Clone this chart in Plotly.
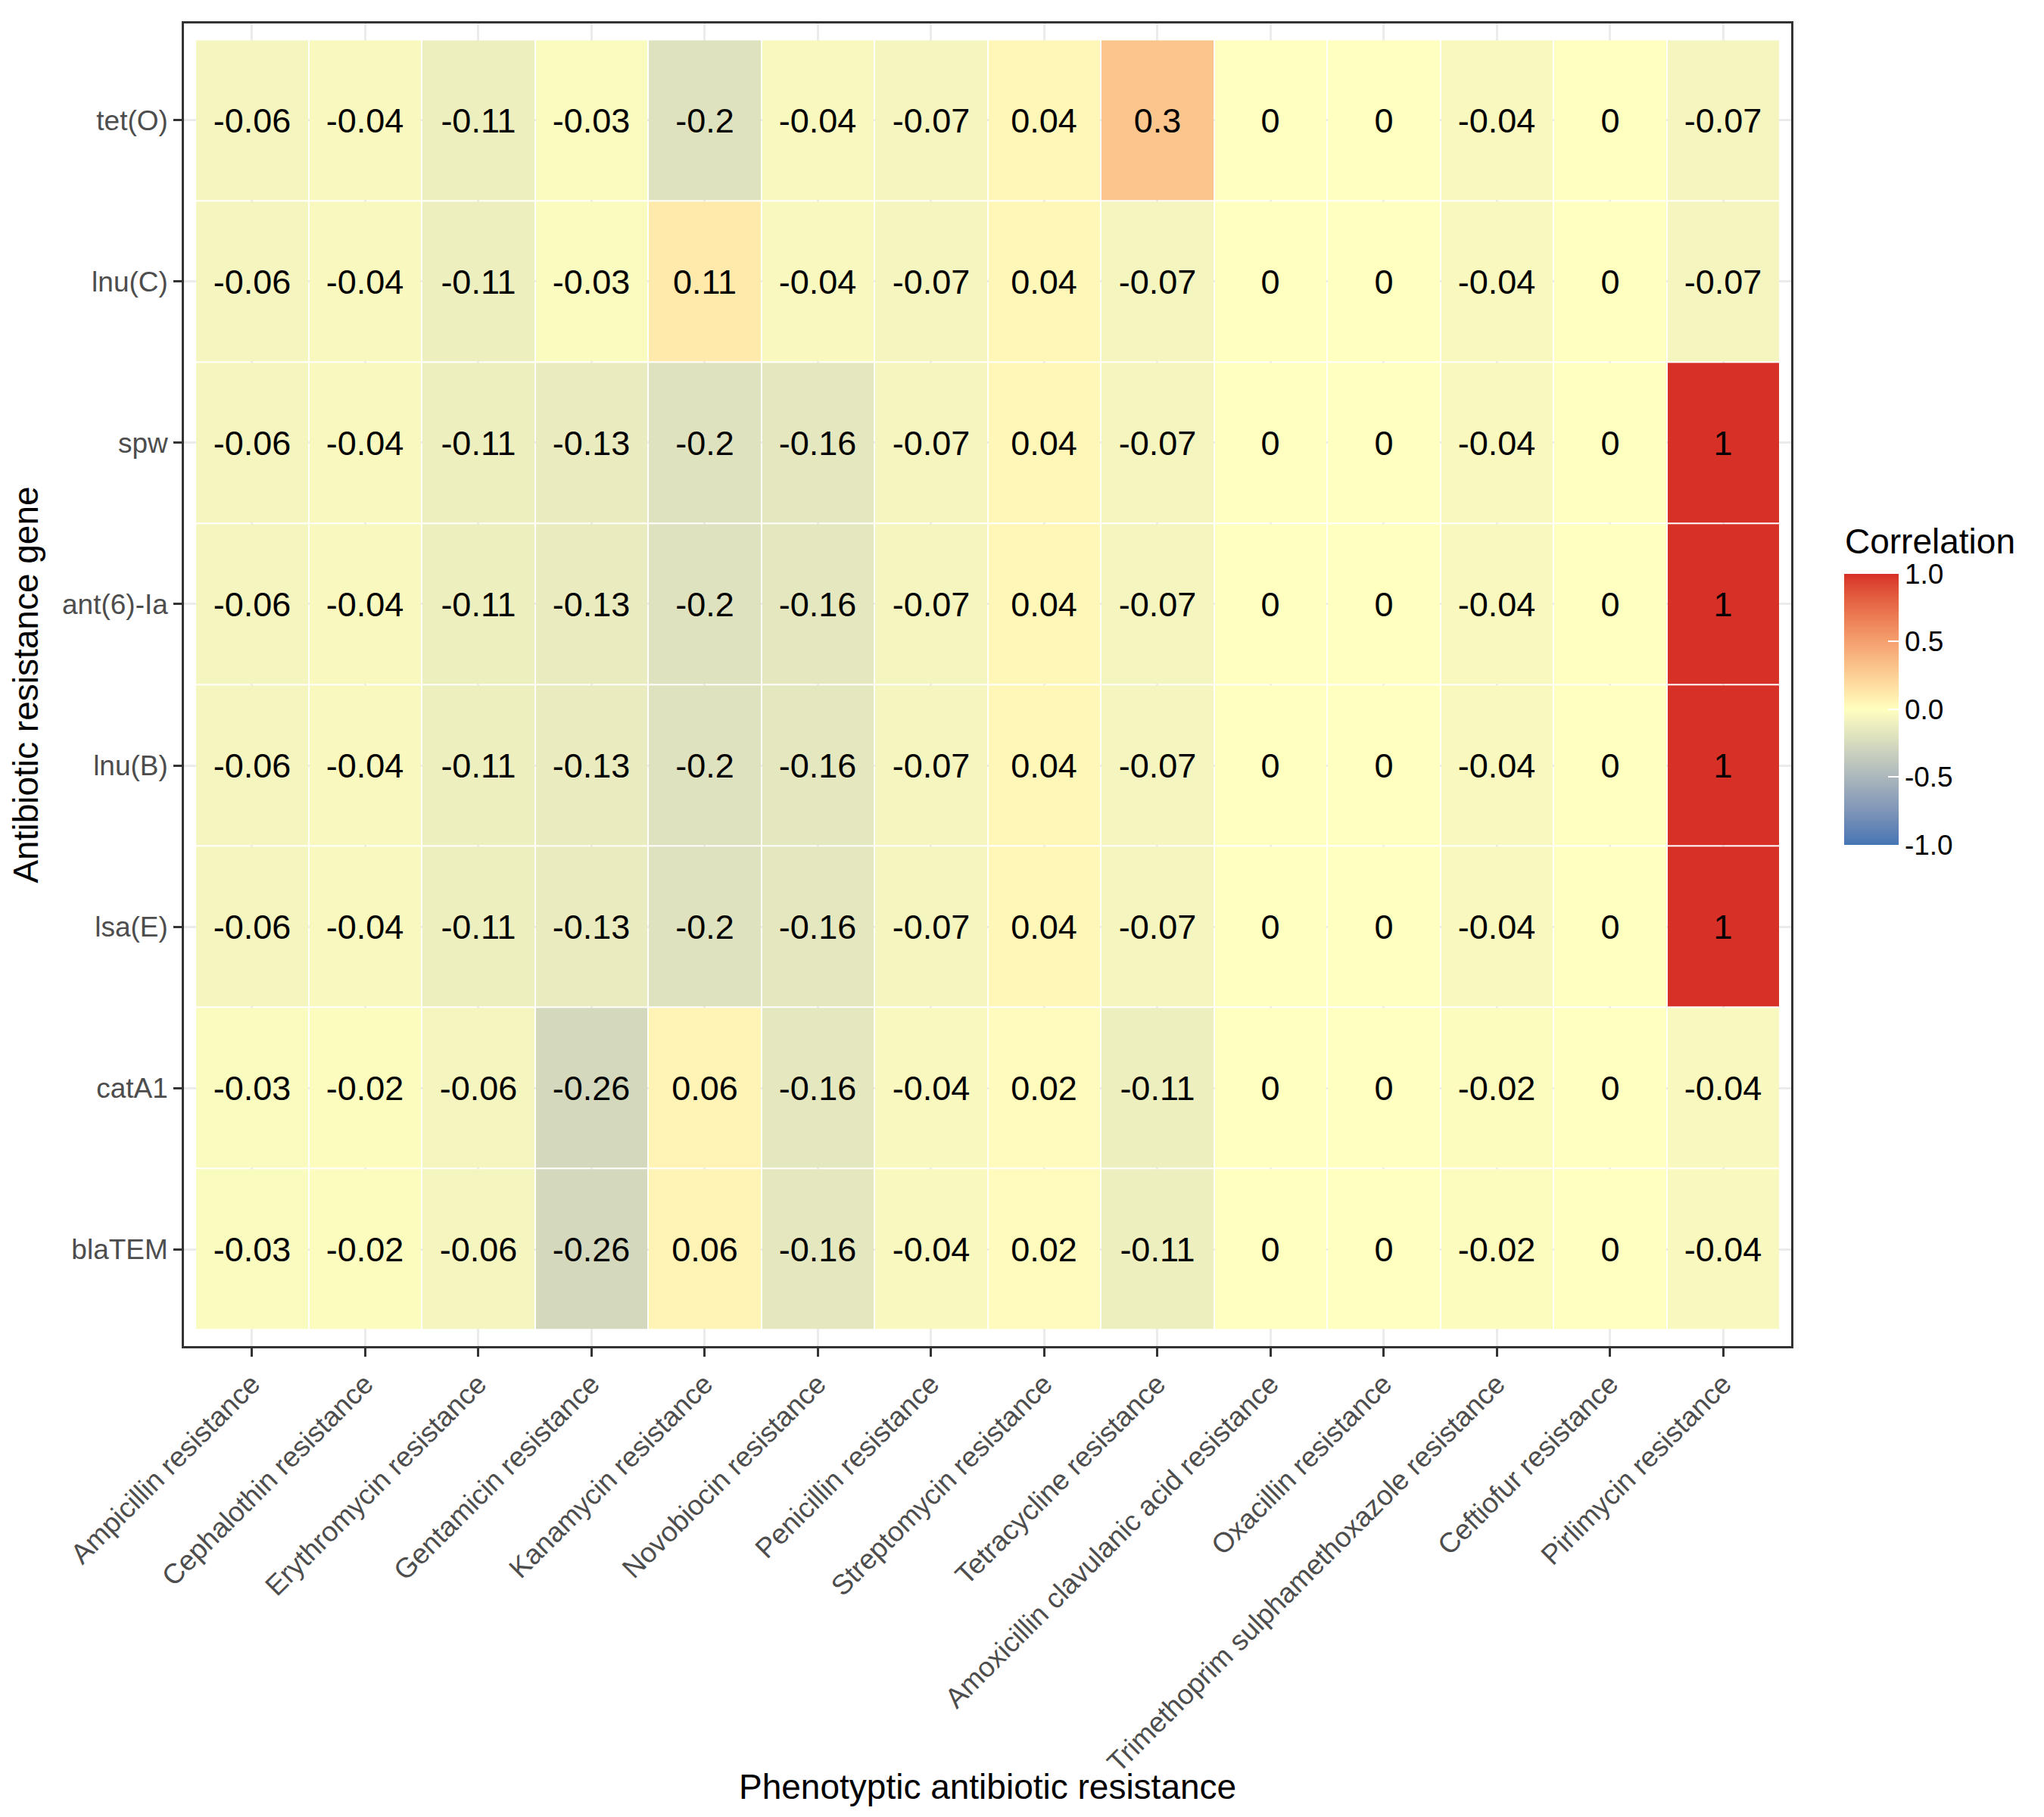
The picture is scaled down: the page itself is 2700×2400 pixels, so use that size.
import numpy as np
import plotly.graph_objects as go

phenotypes = [
    "Ampicillin resistance", "Cephalothin resistance", "Erythromycin resistance",
    "Gentamicin resistance", "Kanamycin resistance", "Novobiocin resistance",
    "Penicillin resistance", "Streptomycin resistance", "Tetracycline resistance",
    "Amoxicillin clavulanic acid resistance", "Oxacillin resistance",
    "Trimethoprim sulphamethoxazole resistance", "Ceftiofur resistance",
    "Pirlimycin resistance",
]

genes = ["tet(O)", "lnu(C)", "spw", "ant(6)-Ia", "lnu(B)", "lsa(E)", "catA1", "blaTEM"]

tet_O = [-0.06, -0.04, -0.11, -0.03, -0.2, -0.04, -0.07, 0.04, 0.3, 0, 0, -0.04, 0, -0.07]
lnu_C = [-0.06, -0.04, -0.11, -0.03, 0.11, -0.04, -0.07, 0.04, -0.07, 0, 0, -0.04, 0, -0.07]
spw = [-0.06, -0.04, -0.11, -0.13, -0.2, -0.16, -0.07, 0.04, -0.07, 0, 0, -0.04, 0, 1]
ant6_Ia = [-0.06, -0.04, -0.11, -0.13, -0.2, -0.16, -0.07, 0.04, -0.07, 0, 0, -0.04, 0, 1]
lnu_B = [-0.06, -0.04, -0.11, -0.13, -0.2, -0.16, -0.07, 0.04, -0.07, 0, 0, -0.04, 0, 1]
lsa_E = [-0.06, -0.04, -0.11, -0.13, -0.2, -0.16, -0.07, 0.04, -0.07, 0, 0, -0.04, 0, 1]
catA1 = [-0.03, -0.02, -0.06, -0.26, 0.06, -0.16, -0.04, 0.02, -0.11, 0, 0, -0.02, 0, -0.04]
blaTEM = [-0.03, -0.02, -0.06, -0.26, 0.06, -0.16, -0.04, 0.02, -0.11, 0, 0, -0.02, 0, -0.04]

z = [tet_O, lnu_C, spw, ant6_Ia, lnu_B, lsa_E, catA1, blaTEM]
labels = [[f"{v:g}" for v in row] for row in z]

colorbar_ticks = [-1, -0.5, 0, 0.5, 1]
colorbar_ticktext = ["-1.0", "-0.5", "0.0", "0.5", "1.0"]


# diverging gradient (low/mid/high) interpolated in Lab space, like ggplot
def hex_to_lab(h):
    rgb = np.array([int(h[i:i + 2], 16) / 255 for i in (1, 3, 5)])
    rgb = np.where(rgb > 0.04045, ((rgb + 0.055) / 1.055) ** 2.4, rgb / 12.92)
    m = np.array([[0.4124, 0.3576, 0.1805], [0.2126, 0.7152, 0.0722], [0.0193, 0.1192, 0.9505]])
    xyz = m @ rgb / np.array([0.95047, 1.0, 1.08883])
    f = np.where(xyz > 0.008856, np.cbrt(xyz), 7.787 * xyz + 16 / 116)
    return np.array([116 * f[1] - 16, 500 * (f[0] - f[1]), 200 * (f[1] - f[2])])


def lab_to_hex(lab):
    fy = (lab[0] + 16) / 116
    f = np.array([fy + lab[1] / 500, fy, fy - lab[2] / 200])
    xyz = np.where(f ** 3 > 0.008856, f ** 3, (f - 16 / 116) / 7.787) * np.array([0.95047, 1.0, 1.08883])
    m = np.array([[3.2406, -1.5372, -0.4986], [-0.9689, 1.8758, 0.0415], [0.0557, -0.2040, 1.0570]])
    rgb = m @ xyz
    rgb = np.where(rgb > 0.0031308, 1.055 * np.clip(rgb, 0, None) ** (1 / 2.4) - 0.055, 12.92 * rgb)
    rgb = np.clip(rgb, 0, 1)
    return "#%02x%02x%02x" % tuple(int(round(c * 255)) for c in rgb)


low, mid, high = hex_to_lab("#4575B4"), hex_to_lab("#FFFFBF"), hex_to_lab("#D73027")
colorscale = []
for t in np.linspace(0, 1, 21):
    if t <= 0.5:
        c = low + (mid - low) * (t / 0.5)
    else:
        c = mid + (high - mid) * ((t - 0.5) / 0.5)
    colorscale.append([float(t), lab_to_hex(c)])

FONT = "Liberation Sans, Arial, sans-serif"

fig = go.Figure(go.Heatmap(
    z=z,
    x=phenotypes,
    y=genes,
    text=labels,
    texttemplate="%{text}",
    textfont=dict(family=FONT, size=45, color="black"),
    colorscale=colorscale,
    zmin=-1,
    zmax=1,
    xgap=2,
    ygap=2,
    colorbar=dict(
        tickvals=colorbar_ticks,
        ticktext=colorbar_ticktext,
        tickfont=dict(family=FONT, size=37, color="black"),
        ticks="inside",
        ticklen=14,
        tickcolor="white",
        tickwidth=2,
        outlinewidth=0,
        thickness=72,
        lenmode="pixels",
        len=358,
        x=1.033,
        xanchor="left",
        y=0.4814,
        yanchor="middle",
        xpad=0,
        ypad=0,
    ),
))

axis_common = dict(
    showline=True,
    mirror=True,
    linecolor="#333333",
    linewidth=2.5,
    ticks="outside",
    ticklen=11,
    tickwidth=2.5,
    tickcolor="#333333",
    showgrid=True,
    gridcolor="#EBEBEB",
    gridwidth=3,
    zeroline=False,
    tickfont=dict(family=FONT, size=37, color="#4D4D4D"),
)

fig.update_layout(
    width=2700,
    height=2400,
    margin=dict(l=235, r=342, t=23, b=630),
    paper_bgcolor="white",
    plot_bgcolor="white",
    xaxis=dict(**axis_common, range=[-0.6, 13.6], tickangle=-45),
    yaxis=dict(
        **axis_common,
        range=[7.6, -0.6],
        title=dict(text="Antibiotic resistance gene", font=dict(family=FONT, size=46, color="black"), standoff=18),
    ),
)

# x axis title and legend title as annotations so they sit where ggplot puts them
fig.add_annotation(
    text="Phenotyptic antibiotic resistance",
    xref="paper", yref="paper", x=0.5, y=-0.3331,
    xanchor="center", yanchor="middle", showarrow=False,
    font=dict(family=FONT, size=46, color="black"),
)
fig.add_annotation(
    text="Correlation",
    xref="paper", yref="paper", x=1.0325, y=0.6085,
    xanchor="left", yanchor="middle", showarrow=False,
    font=dict(family=FONT, size=46, color="black"),
)

fig.write_html("out.html")
